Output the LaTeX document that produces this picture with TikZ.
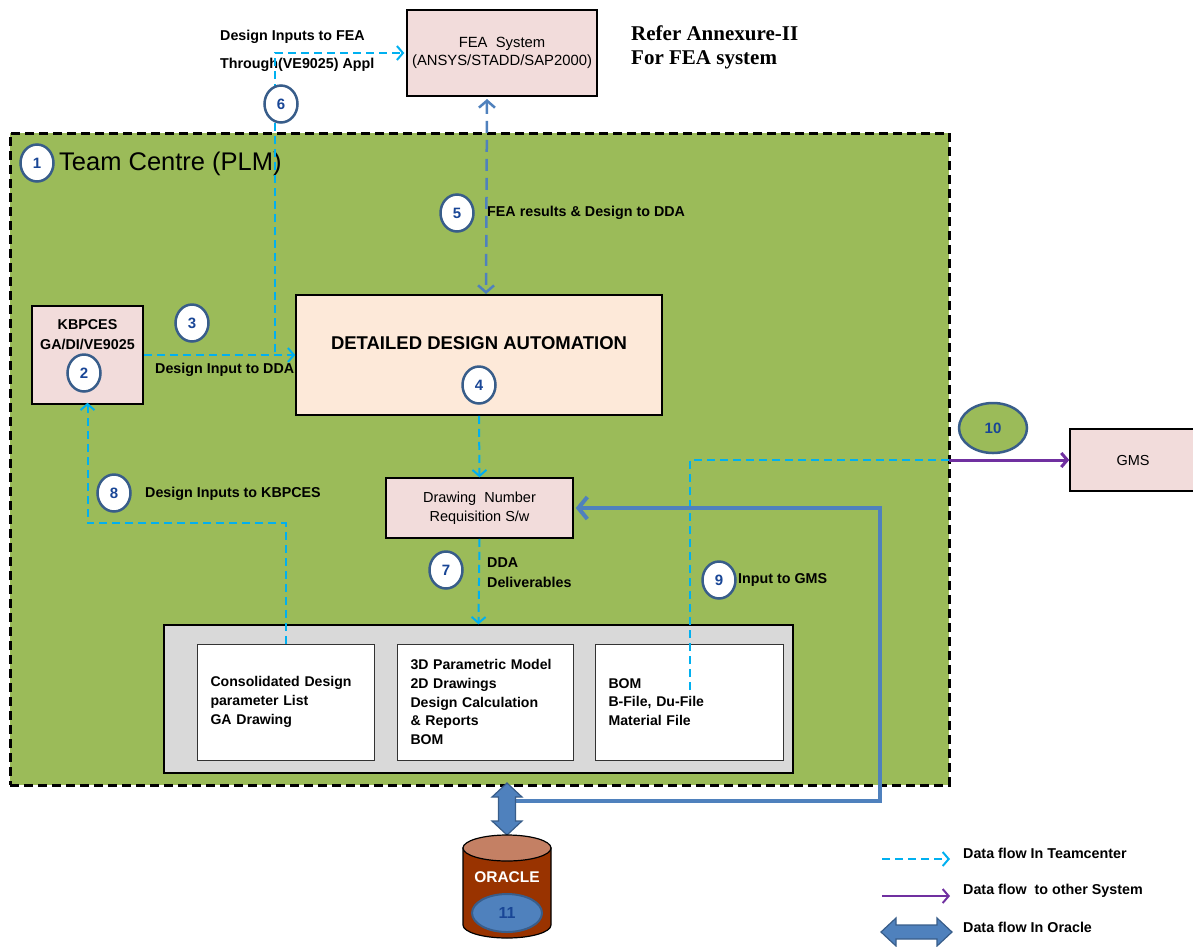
\documentclass[tikz,border=0pt]{standalone}
\usepackage{fontspec}
\setmainfont{Liberation Sans}
\newfontfamily\serifbf{Liberation Serif}
\usetikzlibrary{arrows.meta,shapes.geometric}
\definecolor{tcgreen}{RGB}{155,187,89}
\definecolor{pinkbox}{RGB}{242,220,219}
\definecolor{peachbox}{RGB}{253,233,217}
\definecolor{graybox}{RGB}{217,217,217}
\definecolor{cyanC}{RGB}{0,176,240}
\definecolor{purpleC}{RGB}{112,48,160}
\definecolor{blueM}{RGB}{79,129,189}
\definecolor{blueD}{RGB}{56,93,138}
\definecolor{numB}{RGB}{25,70,150}
\definecolor{oraBody}{RGB}{153,51,0}
\definecolor{oraTop}{RGB}{196,128,100}
\begin{document}
\begin{tikzpicture}[x=1pt,y=-1pt,
  lbl/.style={inner sep=0, anchor=west, font=\bfseries\fontsize{14.3}{16}\selectfont},
  boxt/.style={draw=black, line width=1.5pt, inner sep=0, align=center},
  inbox/.style={draw=black!80, line width=1pt, fill=white, inner ysep=0, inner xsep=13.5pt,
     align=left, minimum height=116pt, font=\bfseries\fontsize{14.1}{18.7}\selectfont},
  num/.style={ellipse, draw=blueD, line width=2.5pt, fill=white, minimum width=33pt,
     minimum height=37pt, inner sep=0, text=numB, font=\bfseries\fontsize{15}{15}\selectfont},
  cyanflow/.style={draw=cyanC, line width=2pt, dash pattern=on 8pt off 5pt},
  cyanarrow/.style={cyanflow, -{Straight Barb[length=6pt,width=14pt]}},
  purplearrow/.style={draw=purpleC, line width=3pt, -{Straight Barb[length=6pt,width=14pt]}},
  oraline/.style={draw=blueM, line width=4pt},
  blockarrow/.style={draw=blueD, line width=1.2pt, fill=blueM}
]
\useasboundingbox (0,0) rectangle (1193,946);

% Team Centre region
\node[draw=black, line width=3pt, dash pattern=on 9pt off 5pt, fill=tcgreen,
      minimum width=939pt, minimum height=652pt, inner sep=0] (tc) at (479.5,459) {};
\node[inner sep=0, anchor=west, font=\fontsize{25.5}{26}\selectfont] (tctitle) at (59,164) {Team Centre (PLM)};
\node[num] (n1) at (37,163) {1};

% FEA system
\node[boxt, fill=pinkbox, minimum width=190pt, minimum height=86pt,
      font=\fontsize{14.8}{18}\selectfont] (fea) at (502,53) {FEA~~System\\(ANSYS/STADD/SAP2000)};
\node[inner sep=0, anchor=west, font=\serifbf\bfseries\fontsize{21}{27}\selectfont] (ref1) at (631,33) {Refer Annexure-II};
\node[inner sep=0, anchor=west, font=\serifbf\bfseries\fontsize{21}{27}\selectfont] (ref2) at (631,60) {For FEA system};

% Labels for 6
\node[lbl] (l6a) at (220,37) {Design Inputs to FEA};
\node[lbl] (l6b) at (220,65) {Through(VE9025) Appl};

% DDA
\node[boxt, fill=peachbox, minimum width=366pt, minimum height=120pt] (dda) at (479,355) {};
\node[inner sep=0, font=\bfseries\fontsize{18.5}{20}\selectfont] (ddat) at (479,343) {DETAILED DESIGN AUTOMATION};

% KBPCES
\node[boxt, fill=pinkbox, minimum width=111pt, minimum height=98pt] (kb) at (87.5,355) {};
\node[inner sep=0, align=center, font=\bfseries\fontsize{14.3}{20}\selectfont] (kbt) at (87.5,335) {KBPCES\\GA/DI/VE9025};

% Drawing number
\node[boxt, fill=pinkbox, minimum width=187pt, minimum height=60pt,
      font=\fontsize{14.5}{19}\selectfont] (dn) at (479.5,508) {Drawing~~Number\\Requisition S/w};

% GMS
\node[boxt, fill=pinkbox, minimum width=126pt, minimum height=62pt,
      font=\fontsize{14.5}{16}\selectfont] (gms) at (1133,460) {GMS};

% deliverables container
\node[draw=black, line width=1.5pt, fill=graybox, minimum width=629pt, minimum height=148pt, inner sep=0] (gray) at (478.5,699) {};
\node[inbox, text width=150pt] (b1) at (285.5,702) {Consolidated Design\\parameter List\\GA Drawing};
\node[inbox, text width=149pt] (b2) at (485,702) {3D Parametric Model\\2D Drawings\\Design Calculation\\\& Reports\\BOM};
\node[inbox, text width=161pt] (b3) at (689,702) {BOM\\B-File, Du-File\\Material File};

% connectors (Teamcenter flows)
\coordinate (j6) at (275,352);
\draw[cyanarrow] (j6) |- ([xshift=-2pt]fea.west);
\draw[cyanarrow] (kb.east) -- (dda.west);
\draw[cyanarrow] (dda.south) -- (dn.north);
\draw[cyanarrow] (dn.south) -- (gray.north);
\coordinate (t8) at (285.5,523);
\draw[cyanarrow] (b1.north) -- (t8) -| ([yshift=2pt]kb.south);
\coordinate (c9) at (690,690);
\coordinate (edge) at (949,460);
\draw[cyanflow] (c9) |- (edge);
\draw[purplearrow] (edge) -- (gms.west);

% FEA <-> DDA
\coordinate (f5t) at (487,99);
\coordinate (f5b) at (486,294);
\draw[draw=blueM, line width=2.5pt, dash pattern=on 12pt off 7pt,
      {Straight Barb[length=7pt,width=16pt]}-{Straight Barb[length=7pt,width=16pt]}] (f5t) -- (f5b);

% labels
\node[lbl] (l5) at (487,213) {FEA results \& Design to DDA};
\node[lbl] (l3) at (155,370) {Design Input to DDA};
\node[lbl] (l8) at (145,494) {Design Inputs to KBPCES};
\node[lbl] (l7a) at (487,563) {DDA};
\node[lbl] (l7b) at (487,582) {Deliverables};
\node[lbl] (l9) at (738,580) {Input to GMS};

% numbers
\node[num] (n2) at (84,373) {2};
\node[num] (n3) at (192,323) {3};
\node[num] (n4) at (479,385) {4};
\node[num] (n5) at (457,213) {5};
\node[num] (n6) at (281,104) {6};
\node[num] (n7) at (446,570) {7};
\node[num] (n8) at (114,493) {8};
\node[num] (n9) at (719,580) {9};
\node[num, fill=tcgreen, minimum width=68pt, minimum height=50pt] (n10) at (993,428) {10};

% Oracle link
\coordinate (oraJ) at (515,801);
\coordinate (bc) at (880,801);
\draw[oraline, -{Straight Barb[length=9pt,width=22pt]}] (oraJ) -- (bc) |- ([xshift=2pt]dn.east);
\path[blockarrow] (507,783) -- (522,797) -- (515.5,797) -- (515.5,821) -- (522,821) -- (507,835)
   -- (492,821) -- (498.5,821) -- (498.5,797) -- (492,797) -- cycle;

% Oracle cylinder
\path[fill=oraBody, draw=black, line width=1.2pt] (463,848) -- (463,925)
   arc[start angle=180, end angle=360, x radius=44pt, y radius=13pt] -- (551,848) -- cycle;
\path[fill=oraTop, draw=black, line width=1.2pt] (507,848) ellipse [x radius=44pt, y radius=13pt];
\node[inner sep=0, text=white, font=\bfseries\fontsize{15.5}{15}\selectfont] (orat) at (507,877) {ORACLE};
\node[ellipse, draw=blueD, line width=2pt, fill=blueM, minimum width=70pt, minimum height=38pt,
      inner sep=0, text=numB, font=\bfseries\fontsize{16}{16}\selectfont] (n11) at (507,913) {11};

% legend
\coordinate (lg1a) at (882,859); \coordinate (lg1b) at (950,859);
\draw[cyanarrow] (lg1a) -- (lg1b);
\coordinate (lg2a) at (882,896); \coordinate (lg2b) at (950,896);
\draw[purplearrow, line width=2pt] (lg2a) -- (lg2b);
\path[blockarrow] (881,932) -- (896,918) -- (896,925) -- (937,925) -- (937,918) -- (952,932)
   -- (937,946) -- (937,939) -- (896,939) -- (896,946) -- cycle;
\node[lbl] (lt1) at (963,853) {Data flow In Teamcenter};
\node[lbl] (lt2) at (963,891) {Data flow~~to other System};
\node[lbl] (lt3) at (963,927) {Data flow In Oracle};
\end{tikzpicture}
\end{document}
